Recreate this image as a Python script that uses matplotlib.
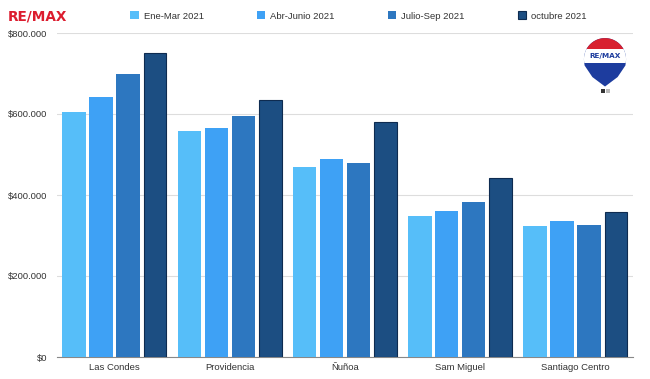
import numpy as np
import matplotlib
matplotlib.use("Agg")
import matplotlib.pyplot as plt
from matplotlib.patches import Polygon, Rectangle
from matplotlib.ticker import FuncFormatter

plt.rcParams["font.family"] = ["Liberation Sans", "DejaVu Sans"]

categories = ["Las Condes", "Providencia", "Ñuñoa", "Sam Miguel", "Santiago Centro"]
series_names = ["Ene-Mar 2021", "Abr-Junio 2021", "Julio-Sep 2021", "octubre 2021"]
ene_mar = [606000, 559000, 469000, 348000, 323000]
abr_jun = [643000, 565000, 488000, 361000, 336000]
jul_sep = [700000, 596000, 480000, 382000, 327000]
octubre = [751000, 635000, 580000, 441000, 359000]
yticks = [0, 200000, 400000, 600000, 800000]

colors = ["#56BEF9", "#3EA1F5", "#2D77C0", "#1C4E82"]
edges = ["none", "none", "none", "#0E2B50"]
lws = [0, 0, 0, 0.8]

fig = plt.figure(figsize=(6.5, 3.79), dpi=100)
ax = fig.add_axes([57/650, 1-357/379, 576/650, 324/379])

x = np.arange(len(categories))
period = 0.234
width = 0.204
data = [ene_mar, abr_jun, jul_sep, octubre]
handles = []
for i, vals in enumerate(data):
    off = (i - 1.5) * period
    w = width - (0.008 if lws[i] else 0)
    b = ax.bar(x + off, vals, width=w, color=colors[i], edgecolor=edges[i],
               linewidth=lws[i], label=series_names[i], zorder=3)
    handles.append(b)

ax.set_xlim(-0.5, len(categories) - 0.5)
ax.set_ylim(0, 800000)
ax.set_yticks(yticks)
ax.yaxis.set_major_formatter(FuncFormatter(lambda v, p: "$" + f"{int(v):,}".replace(",", ".")))
ax.set_xticks(x)
ax.set_xticklabels(categories)
ax.tick_params(axis="both", length=0, labelsize=6.8, colors="#333333")
ax.tick_params(axis="y", pad=7.2)
ax.tick_params(axis="x", pad=4)
ax.grid(axis="y", color="#dddddd", linewidth=0.8, zorder=0)
for s in ["top", "right", "left"]:
    ax.spines[s].set_visible(False)
ax.spines["bottom"].set_color("#888888")
ax.spines["bottom"].set_linewidth(0.8)

leg = fig.legend(handles=handles, labels=series_names, loc="center left",
                 bbox_to_anchor=(130/650, 1-16/379), ncol=4, frameon=False,
                 fontsize=6.8, handlelength=0.9, handleheight=0.9, handletextpad=0.55,
                 columnspacing=5.6, borderaxespad=0, borderpad=0)
for t in leg.get_texts():
    t.set_color("#333333")

# RE/MAX wordmark top-left
fig.text(8/650, 1-16/379, "RE/MAX", fontsize=9.8, fontweight="bold", color="#DC1C2E",
         va="center", ha="left", family="DejaVu Sans")

# Balloon logo top-right
lax = fig.add_axes([579/650, 1-96/379, 52/650, 60/379])
lax.set_xlim(-1.15, 1.15)
lax.set_ylim(-1.75, 1.1)
lax.set_aspect("equal")
lax.axis("off")
th = np.linspace(0, np.pi, 60)
top = np.column_stack([np.cos(th), np.sin(th)])
bottom = np.array([[-0.97, -0.3], [-0.6, -0.85], [0.0, -1.3], [0.6, -0.85], [0.97, -0.3]])
outline = np.vstack([top, [[-1.0, -0.05]], bottom, [[1.0, -0.05]]])
balloon = Polygon(outline, closed=True, facecolor="#1D3C9E", edgecolor="none")
lax.add_patch(balloon)
red = Rectangle((-1.3, 0.5), 2.6, 1.0, facecolor="#D8202F", edgecolor="none")
red.set_clip_path(balloon)
lax.add_patch(red)
white = Rectangle((-1.3, -0.2), 2.6, 0.7, facecolor="white", edgecolor="none")
white.set_clip_path(balloon)
lax.add_patch(white)
lax.text(0, 0.15, "RE/MAX", fontsize=5.2, fontweight="bold", color="#1D3C9E",
         ha="center", va="center", family="DejaVu Sans")
lax.add_patch(Rectangle((-0.2, -1.62), 0.22, 0.18, facecolor="#333333", edgecolor="none"))
lax.add_patch(Rectangle((0.06, -1.62), 0.18, 0.18, facecolor="#bbbbbb", edgecolor="none"))

fig.savefig("out.png", dpi=100)
